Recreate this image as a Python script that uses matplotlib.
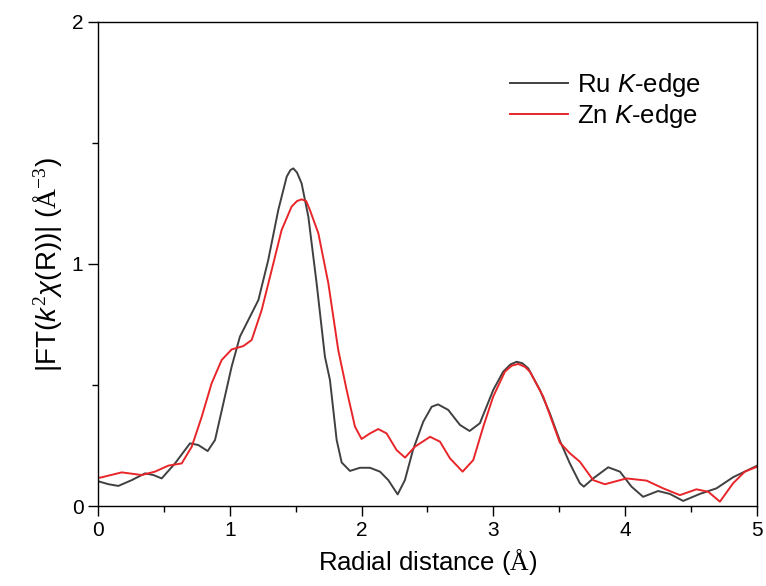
import matplotlib
matplotlib.use('Agg')
import matplotlib.pyplot as plt
from matplotlib.ticker import MultipleLocator

# EXAFS FT magnitude
ru_r = [0.00, 0.015, 0.08, 0.154, 0.256, 0.357, 0.42, 0.483, 0.584, 0.698, 0.761, 0.832,
        0.888, 0.951, 1.014, 1.077, 1.141, 1.217, 1.292, 1.368, 1.432, 1.46, 1.482, 1.51,
        1.545, 1.596, 1.659, 1.722, 1.760, 1.785, 1.811, 1.849, 1.912, 1.988, 2.064, 2.140,
        2.203, 2.274, 2.329, 2.39, 2.468, 2.532, 2.58, 2.658, 2.747, 2.82, 2.898, 3.0,
        3.075, 3.13, 3.177, 3.22, 3.265, 3.354, 3.429, 3.505, 3.581, 3.657, 3.687, 3.758,
        3.872, 3.961, 4.049, 4.137, 4.251, 4.340, 4.441, 4.568, 4.694, 4.82, 5.00]
ru_ft = [0.103, 0.100, 0.090, 0.083, 0.107, 0.135, 0.128, 0.114, 0.176, 0.259, 0.252, 0.227,
         0.273, 0.424, 0.576, 0.700, 0.769, 0.851, 1.017, 1.223, 1.361, 1.388, 1.395, 1.378,
         1.333, 1.196, 0.920, 0.617, 0.521, 0.400, 0.273, 0.180, 0.145, 0.158, 0.158, 0.142,
         0.107, 0.048, 0.107, 0.231, 0.348, 0.410, 0.420, 0.397, 0.335, 0.310, 0.342, 0.480,
         0.555, 0.585, 0.596, 0.590, 0.569, 0.479, 0.383, 0.270, 0.176, 0.094, 0.080, 0.114,
         0.160, 0.142, 0.080, 0.038, 0.062, 0.050, 0.021, 0.050, 0.073, 0.119, 0.166]

zn_r = [0.00, 0.015, 0.18, 0.331, 0.432, 0.534, 0.635, 0.711, 0.787, 0.862, 0.938, 1.014,
        1.103, 1.166, 1.242, 1.318, 1.393, 1.469, 1.51, 1.545, 1.58, 1.608, 1.672, 1.748,
        1.823, 1.887, 1.950, 2.0, 2.064, 2.127, 2.190, 2.266, 2.33, 2.405, 2.52, 2.595,
        2.671, 2.767, 2.848, 2.924, 2.999, 3.088, 3.14, 3.19, 3.24, 3.278, 3.379, 3.505,
        3.581, 3.657, 3.758, 3.847, 4.011, 4.163, 4.289, 4.416, 4.542, 4.631, 4.720, 4.82,
        4.909, 5.00]
zn_ft = [0.118, 0.117, 0.139, 0.128, 0.142, 0.167, 0.176, 0.245, 0.369, 0.507, 0.603, 0.647,
         0.661, 0.686, 0.810, 0.975, 1.140, 1.237, 1.260, 1.267, 1.260, 1.223, 1.127, 0.920,
         0.645, 0.479, 0.328, 0.277, 0.300, 0.318, 0.300, 0.231, 0.200, 0.245, 0.286, 0.266,
         0.197, 0.142, 0.190, 0.328, 0.452, 0.555, 0.580, 0.587, 0.575, 0.555, 0.452, 0.262,
         0.218, 0.183, 0.107, 0.090, 0.114, 0.105, 0.073, 0.045, 0.069, 0.059, 0.018, 0.094,
         0.142, 0.162]

plt.rcParams['font.family'] = ['Liberation Sans', 'DejaVu Sans']
plt.rcParams['mathtext.fontset'] = 'custom'
plt.rcParams['mathtext.rm'] = 'Liberation Serif'
plt.rcParams['mathtext.it'] = 'Liberation Sans:italic'

fig = plt.figure(figsize=(7.66, 5.86), dpi=100)
ax = fig.add_axes([0.128, 0.1365, 0.86, 0.826])

ax.plot(ru_r, ru_ft, color='#404040', lw=1.4, label=r'Ru $K$-edge')
ax.plot(zn_r, zn_ft, color='#e8262a', lw=1.4, label=r'Zn $K$-edge')

ax.set_xlim(0, 5)
ax.set_ylim(0, 2)
ax.xaxis.set_major_locator(MultipleLocator(1))
ax.xaxis.set_minor_locator(MultipleLocator(0.5))
ax.yaxis.set_major_locator(MultipleLocator(1))
ax.yaxis.set_minor_locator(MultipleLocator(0.5))
ax.tick_params(which='both', direction='out', top=False, right=False, labelsize=15, width=1)
ax.tick_params(which='major', length=7)
ax.tick_params(which='minor', length=4)
for s in ax.spines.values():
    s.set_linewidth(1)

ax.set_xlabel(r'Radial distance ($\mathrm{\AA}$)', fontsize=18.5, labelpad=5)
ax.set_ylabel(r'|FT($\mathit{k}^2\mathit{\chi}$(R))| ($\mathrm{\AA}^{-3}$)', fontsize=20, labelpad=5)

ax.legend(loc='upper left', bbox_to_anchor=(0.625, 0.898), frameon=False, fontsize=18.5,
          handlelength=2.26, handletextpad=0.35, labelspacing=0.12,
          borderpad=0, borderaxespad=0)

plt.savefig('out.png', dpi=100)
